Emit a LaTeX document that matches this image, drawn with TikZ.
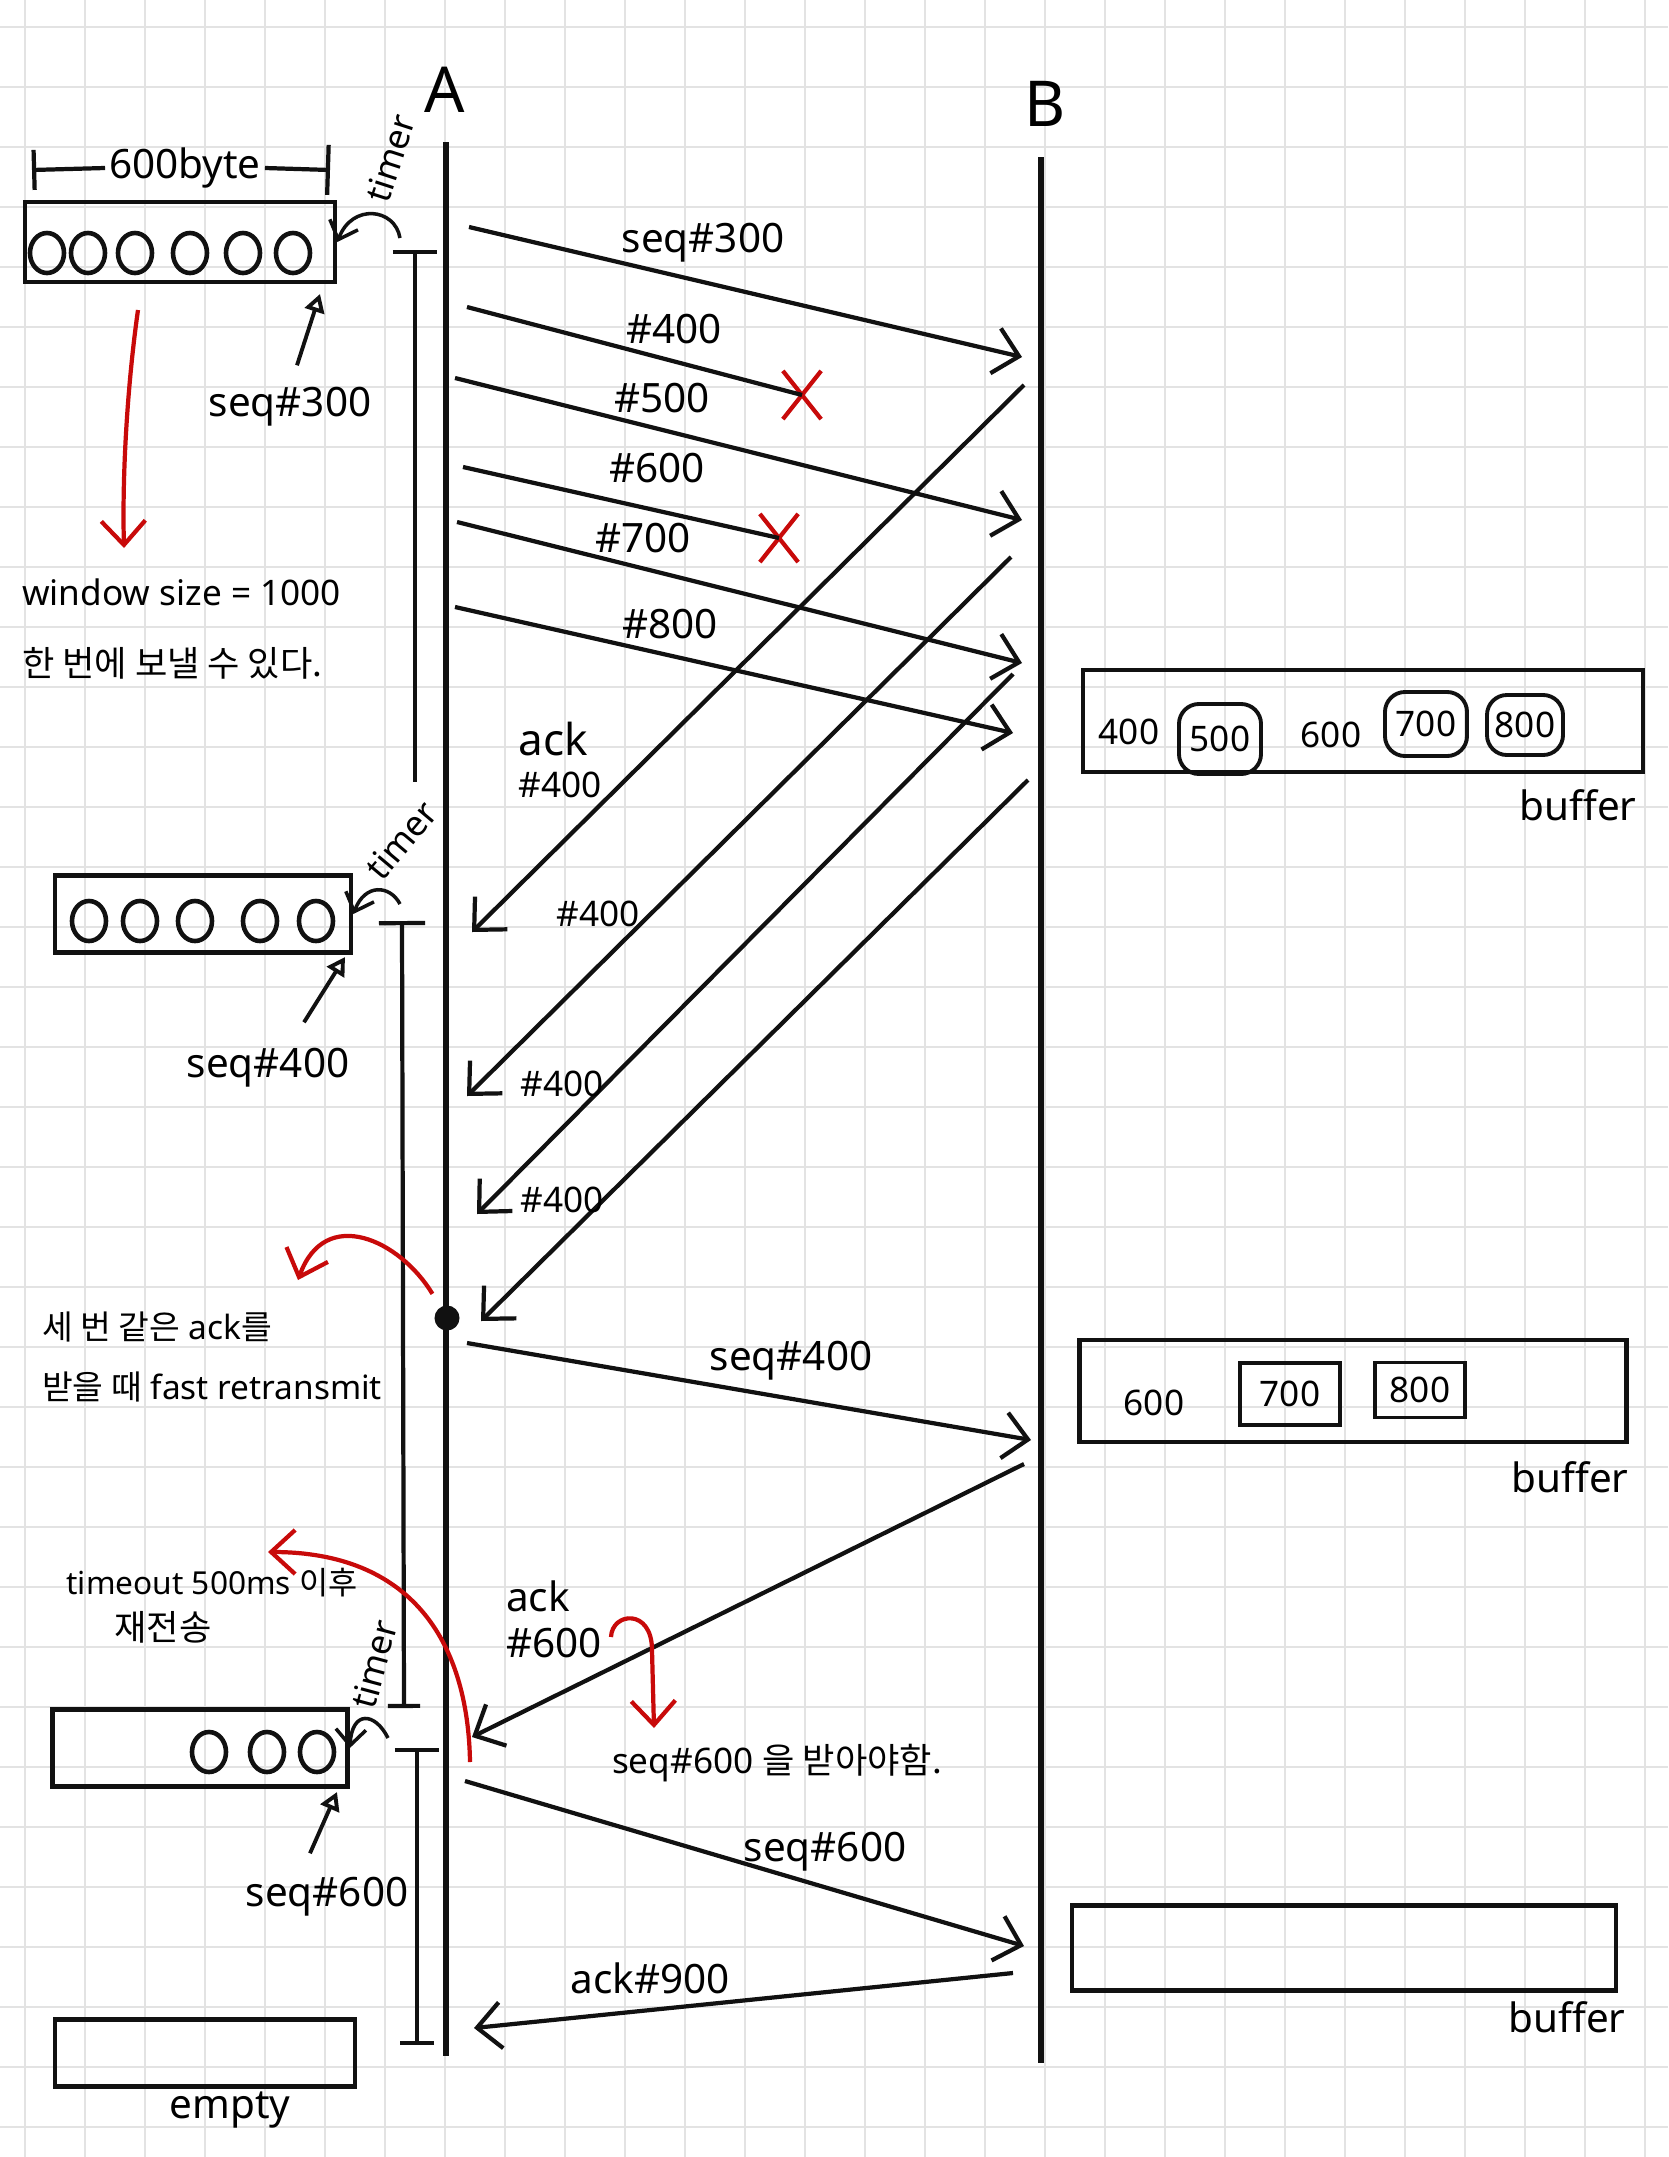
\documentclass[tikz,border=0pt]{standalone}
\usepackage{fontspec}
\setmainfont{Noto Sans}
\newfontfamily\kr{Noto Sans CJK KR}
\usetikzlibrary{arrows.meta,positioning,shapes.geometric,shapes.misc}
\definecolor{pen}{HTML}{111111}
\definecolor{redpen}{HTML}{C80A0A}
\definecolor{gridc}{HTML}{E3E3E3}

\begin{document}
\begin{tikzpicture}[x=0.01cm, y=-0.01cm,
  paper/.style={draw=gridc, line width=0.6pt},
  life/.style={draw=pen, line width=1.5pt},
  wire/.style={draw=pen, line width=1.2pt},
  msg/.style={wire, -{Straight Barb[length=2.4mm,width=4.6mm]}},
  tmr/.style={wire},
  ptr/.style={draw=pen, line width=1.1pt, -{Triangle[open,length=1.8mm,width=2mm]}},
  curl/.style={draw=pen, line width=1pt, -{Straight Barb[length=1.6mm,width=3mm]}},
  hint/.style={draw=redpen, line width=1.2pt, -{Straight Barb[length=2.4mm,width=4.4mm]}},
  drop/.style={cross out, draw=redpen, line width=1.2pt, minimum width=0.34cm, minimum height=0.44cm, inner sep=0pt},
  win/.style={draw=pen, line width=1.3pt, minimum width=3cm, minimum height=0.78cm},
  buf/.style={draw=pen, line width=1.3pt},
  cell/.style={draw=pen, line width=1.1pt, inner sep=0pt},
  seg/.style={draw=pen, ellipse, line width=1.3pt, minimum width=0.34cm, minimum height=0.4cm, inner sep=0pt},
  head/.style={font=\fontsize{18}{20}\selectfont},
  lbl/.style={font=\fontsize{11.5}{13}\selectfont, inner sep=1pt},
  tag/.style={font=\fontsize{10}{12}\selectfont, inner sep=1pt},
  note/.style={font=\fontsize{10}{12}\selectfont, inner sep=1pt, align=left}]
\fill[white] (0,0) rectangle (1668,2157);
\useasboundingbox (0,0) rectangle (1668,2157);
% grid paper
\foreach \gx in {25,85,...,1645} \draw[paper] (\gx,0) -- (\gx,2157);
\foreach \gy in {27,87,...,2127} \draw[paper] (0,\gy) -- (1668,\gy);

% hosts
\node[head] (A) at (445,90) {A};
\node[head] (B) at (1045,104) {B};
\coordinate (Atop) at (446,142);
\coordinate (Abot) at (446,2056);
\coordinate (Btop) at (1041,157);
\coordinate (Bbot) at (1041,2063);
\draw[life] (Atop) -- (Abot);
\draw[life] (Btop) -- (Bbot);

% sender windows
\coordinate (szl) at (32,170);
\coordinate (szr) at (330,170);
\node[lbl] (sz) at (185,168) {600byte};
\draw[wire, {Bar[width=4mm]}-] (szl) -- (sz.west);
\draw[wire, -{Bar[width=5mm]}] (sz.east) -- (szr);
\node[win, minimum width=3.1cm, minimum height=0.8cm] (w1) at (180,242) {};
\foreach \i/\sx in {1/47,2/88,3/135,4/190,5/243,6/293}
  \node[seg] (w1s\i) at (\sx,253) {};
\node[win, minimum width=2.96cm, minimum height=0.77cm] (w2) at (203,914) {};
\foreach \i/\sx in {1/89,2/140,3/195,4/260,5/316}
  \node[seg] (w2s\i) at (\sx,921) {};
\node[win, minimum width=2.95cm, minimum height=0.77cm] (w3) at (200,1748) {};
\foreach \i/\sx in {1/209,2/267,3/317}
  \node[seg] (w3s\i) at (\sx,1752) {};
\node[win, minimum width=3cm, minimum height=0.67cm] (w4) at (205,2053) {};
\node[lbl] (em) at (230,2110) {empty};

% pointers to the window edge
\node[lbl] (p1) at (290,407) {seq\#300};
\coordinate (p1e) at (320,294);
\draw[ptr] ([shift={(7,-18)}]p1.north) -- (p1e);
\node[lbl] (p2) at (268,1068) {seq\#400};
\coordinate (p2e) at (345,957);
\draw[ptr] ([shift={(36,-22)}]p2.north) -- (p2e);
\node[lbl] (p3) at (327,1897) {seq\#600};
\coordinate (p3e) at (337,1792);
\draw[ptr] ([shift={(-17,-20)}]p3.north) -- (p3e);

% timers
\coordinate (t1a) at (415,250);
\coordinate (t1b) at (415,782);
\draw[tmr, {Bar[width=4.4mm]}-] (t1a) -- (t1b);
\node[tag, rotate=72] (tm1) at (390,158) {timer};
\draw[curl] ([shift={(-15,-12)}]t1a) .. controls (395,208) and (352,203) .. (w1.east);
\coordinate (t2a) at (402,921);
\coordinate (t2b) at (404,1708);
\draw[tmr, {Bar[width=4.6mm]}-{Bar[width=3.2mm]}] (t2a) -- (t2b);
\node[tag, rotate=50] (tm2) at (401,840) {timer};
\draw[curl] ([shift={(-2,-17)}]t2a) .. controls (390,885) and (365,883) .. (w2.east);
\coordinate (t3a) at (417,1748);
\coordinate (t3b) at (417,2045);
\draw[tmr, {Bar[width=4.4mm]}-{Bar[width=3.4mm]}] (t3a) -- (t3b);
\node[tag, rotate=75] (tm3) at (374,1664) {timer};
\draw[curl] ([shift={(-29,-10)}]t3a) .. controls (375,1712) and (352,1710) .. (w3.east);

% first burst A -> B
\coordinate (s300a) at (469,227);
\coordinate (s300b) at (1022,357);
\draw[msg] (s300a) -- (s300b);
\node[lbl] (l300) at (703,243) {seq\#300};
\coordinate (s400a) at (467,307);
\node[drop] (x1) at (802,395) {};
\draw[wire] (s400a) -- (x1.center);
\node[lbl] (l400) at (674,329) {\#400};
\coordinate (s500a) at (455,378);
\coordinate (s500b) at (1022,520);
\draw[msg] (s500a) -- (s500b);
\node[lbl] (l500) at (662,398) {\#500};
\coordinate (s600a) at (463,467);
\node[drop] (x2) at (779,538) {};
\draw[wire] (s600a) -- (x2.center);
\node[lbl] (l600) at (657,468) {\#600};
\coordinate (s700a) at (457,522);
\coordinate (s700b) at (1022,663);
\draw[msg] (s700a) -- (s700b);
\node[lbl] (l700) at (643,538) {\#700};
\coordinate (s800a) at (455,607);
\coordinate (s800b) at (1013,733);
\draw[msg] (s800a) -- (s800b);
\node[lbl] (l800) at (670,624) {\#800};

% duplicate acks B -> A
\coordinate (k1b) at (1024,385);
\coordinate (k1a) at (472,932);
\draw[msg] (k1b) -- (k1a);
\node[tag, align=left] (lk1) at (560,760) {\fontsize{12.5}{14}\selectfont ack\\\#400};
\coordinate (k2b) at (1011,557);
\coordinate (k2a) at (467,1096);
\draw[msg] (k2b) -- (k2a);
\node[tag] (lk2) at (598,914) {\#400};
\coordinate (k3b) at (1013,674);
\coordinate (k3a) at (477,1214);
\draw[msg] (k3b) -- (k3a);
\node[tag] (lk3) at (562,1084) {\#400};
\coordinate (k4b) at (1028,780);
\coordinate (k4a) at (481,1321);
\draw[msg] (k4b) -- (k4a);
\node[tag] (lk4) at (562,1200) {\#400};
\node[circle, fill=pen, inner sep=0pt, minimum size=0.25cm] (dup) at (447,1318) {};

% fast retransmit
\coordinate (r400a) at (467,1343);
\coordinate (r400b) at (1031,1440);
\draw[msg] (r400a) -- (r400b);
\node[lbl] (lr400) at (791,1361) {seq\#400};
\coordinate (k6b) at (1024,1464);
\coordinate (k6a) at (472,1737);
\draw[msg] (k6b) -- (k6a);
\node[lbl, align=left] (lk6) at (554,1619) {ack\\\#600};
\coordinate (r600a) at (465,1781);
\coordinate (r600b) at (1024,1946);
\draw[msg] (r600a) -- (r600b);
\node[lbl] (lr600) at (825,1852) {seq\#600};
\coordinate (k9b) at (1013,1973);
\coordinate (k9a) at (474,2028);
\draw[msg] (k9b) -- (k9a);
\node[lbl] (lk9) at (650,1978) {ack\#900};

% receiver buffers
\node[buf, minimum width=5.6cm, minimum height=1.02cm] (bf1) at (1363,721) {};
\node[tag] (c400) at (1129,732) {400};
\node[cell, rounded corners=2mm, minimum width=0.82cm, minimum height=0.7cm] (c500) at (1220,739) {500};
\node[tag] (c600) at (1331,735) {600};
\node[cell, rounded corners=2mm, minimum width=0.82cm, minimum height=0.64cm] (c700) at (1426,724) {700};
\node[cell, rounded corners=2mm, minimum width=0.76cm, minimum height=0.6cm] (c800) at (1525,725) {800};
\node[lbl] (lb1) at (1578,805) {buffer};
\node[buf, minimum width=5.47cm, minimum height=1.02cm] (bf2) at (1353,1391) {};
\node[tag] (d600) at (1154,1403) {600};
\node[cell, minimum width=1cm, minimum height=0.62cm] (d700) at (1290,1394) {700};
\node[cell, minimum width=0.9cm, minimum height=0.55cm] (d800) at (1420,1390) {800};
\node[lbl] (lb2) at (1570,1477) {buffer};
\node[buf, minimum width=5.44cm, minimum height=0.85cm] (bf3) at (1344,1948) {};
\node[lbl] (lb3) at (1567,2017) {buffer};

% notes
\node[note, font=\fontsize{10}{20.4}\selectfont, anchor=west] (n1) at (18,629) {window size = 1000\\{\kr 한 번에 보낼 수 있다.}};
\coordinate (r1a) at (138,310);
\coordinate (r1b) at (124,548);
\draw[hint] (r1a) .. controls (128,380) and (122,470) .. (r1b);
\node[note, font=\fontsize{9.5}{17}\selectfont, anchor=west] (n2) at (38,1357) {{\kr 세 번 같은} ack{\kr 를}\\{\kr 받을 때} fast retransmit};
\coordinate (r2b) at (298,1280);
\draw[hint, shorten <=1.5mm] (dup) .. controls (400,1240) and (325,1205) .. (r2b);
\node[note, font=\fontsize{9}{11}\selectfont] (n3) at (212,1583) {timeout 500ms {\kr 이후}};
\node[note] (n3b) at (163,1627) {\kr 재전송};
\coordinate (r3a) at (470,1762);
\coordinate (r3b) at (268,1552);
\draw[hint] (r3a) .. controls (468,1640) and (410,1552) .. (r3b);
\node[note] (n4) at (777,1763) {seq\#600 {\kr 을 받아야함.}};
\coordinate (r4a) at (611,1637);
\coordinate (r4b) at (654,1728);
\draw[hint] (r4a) .. controls (612,1612) and (652,1608) .. (652,1650) -- (r4b);
\end{tikzpicture}
\end{document}
